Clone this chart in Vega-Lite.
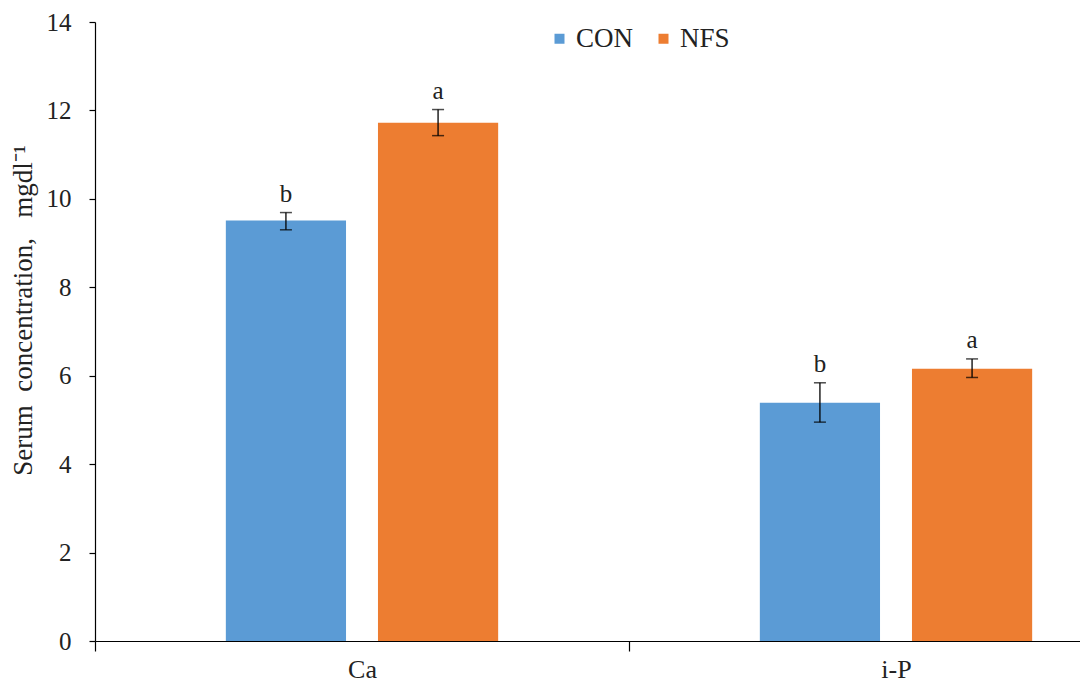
{
  "$schema": "https://vega.github.io/schema/vega-lite/v6.json",
  "autosize": {"type": "none"},
  "width": 985,
  "height": 619,
  "padding": {"left": 95, "top": 22, "right": 0, "bottom": 47},
  "background": "white",
  "config": {
    "font": "Liberation Serif",
    "view": {"stroke": null},
    "axis": {"grid": false, "domainColor": "#000000", "tickColor": "#000000", "labelColor": "#222222", "titleColor": "#222222", "labelFont": "Liberation Serif", "titleFont": "Liberation Serif", "labelFontSize": 25, "titleFontSize": 27, "titleFontWeight": "normal"}
  },
  "data": {
    "values": [
      {"mineral": "Ca", "group": "CON", "mean": 9.51, "lower": 9.30, "upper": 9.69, "letter": "b"},
      {"mineral": "Ca", "group": "NFS", "mean": 11.72, "lower": 11.43, "upper": 12.02, "letter": "a"},
      {"mineral": "i-P", "group": "CON", "mean": 5.39, "lower": 4.95, "upper": 5.84, "letter": "b"},
      {"mineral": "i-P", "group": "NFS", "mean": 6.16, "lower": 5.96, "upper": 6.38, "letter": "a"}
    ]
  },
  "encoding": {
    "x": {
      "field": "mineral", "type": "nominal", "sort": ["Ca", "i-P"],
      "scale": {"range": [0, 1068], "paddingInner": 0, "paddingOuter": 0},
      "axis": {"title": null, "labelAngle": 0, "tickBand": "extent", "tickSize": 10, "labelPadding": 5, "labelFontSize": 26, "domainWidth": 1.2, "tickWidth": 1.2}
    },
    "xOffset": {"field": "group", "type": "nominal", "sort": ["CON", "NFS"], "scale": {"paddingInner": 0.21, "paddingOuter": 0.86}}
  },
  "layer": [
    {
      "mark": {"type": "bar"},
      "encoding": {
        "y": {"field": "mean", "type": "quantitative",
          "scale": {"domain": [0, 14], "nice": false},
          "axis": {"values": [0, 2, 4, 6, 8, 10, 12, 14], "title": "Serum\u00a0\u00a0concentration,\u00a0\u00a0\u00a0mgdl⁻¹", "tickSize": 6, "labelPadding": 18, "domainWidth": 1.2, "tickWidth": 1.2, "titleX": -72, "titleY": 288, "titleAngle": -90, "titleAlign": "center", "titleBaseline": "middle"}},
        "color": {"field": "group", "type": "nominal", "sort": ["CON", "NFS"],
          "scale": {"domain": ["CON", "NFS"], "range": ["#5B9BD5", "#ED7D31"]},
          "legend": {"title": null, "orient": "none", "legendX": 451, "legendY": 3, "direction": "horizontal", "symbolType": "square", "symbolSize": 100, "symbolStrokeWidth": 0, "labelFont": "Liberation Serif", "labelFontSize": 27, "labelColor": "#222222", "columnPadding": 16, "labelOffset": 3}}
      }
    },
    {
      "mark": {"type": "rule", "color": "#000000", "strokeWidth": 1.3},
      "encoding": {
        "y": {"field": "lower", "type": "quantitative"},
        "y2": {"field": "upper"}
      }
    },
    {
      "mark": {"type": "tick", "color": "#000000", "size": 12, "thickness": 1.5},
      "encoding": {"y": {"field": "lower", "type": "quantitative"}}
    },
    {
      "mark": {"type": "tick", "color": "#000000", "size": 12, "thickness": 1.5},
      "encoding": {"y": {"field": "upper", "type": "quantitative"}}
    },
    {
      "mark": {"type": "text", "font": "Liberation Serif", "fontSize": 25, "color": "#222222", "baseline": "middle", "dy": -19},
      "encoding": {
        "y": {"field": "upper", "type": "quantitative"},
        "text": {"field": "letter"}
      }
    }
  ]
}
